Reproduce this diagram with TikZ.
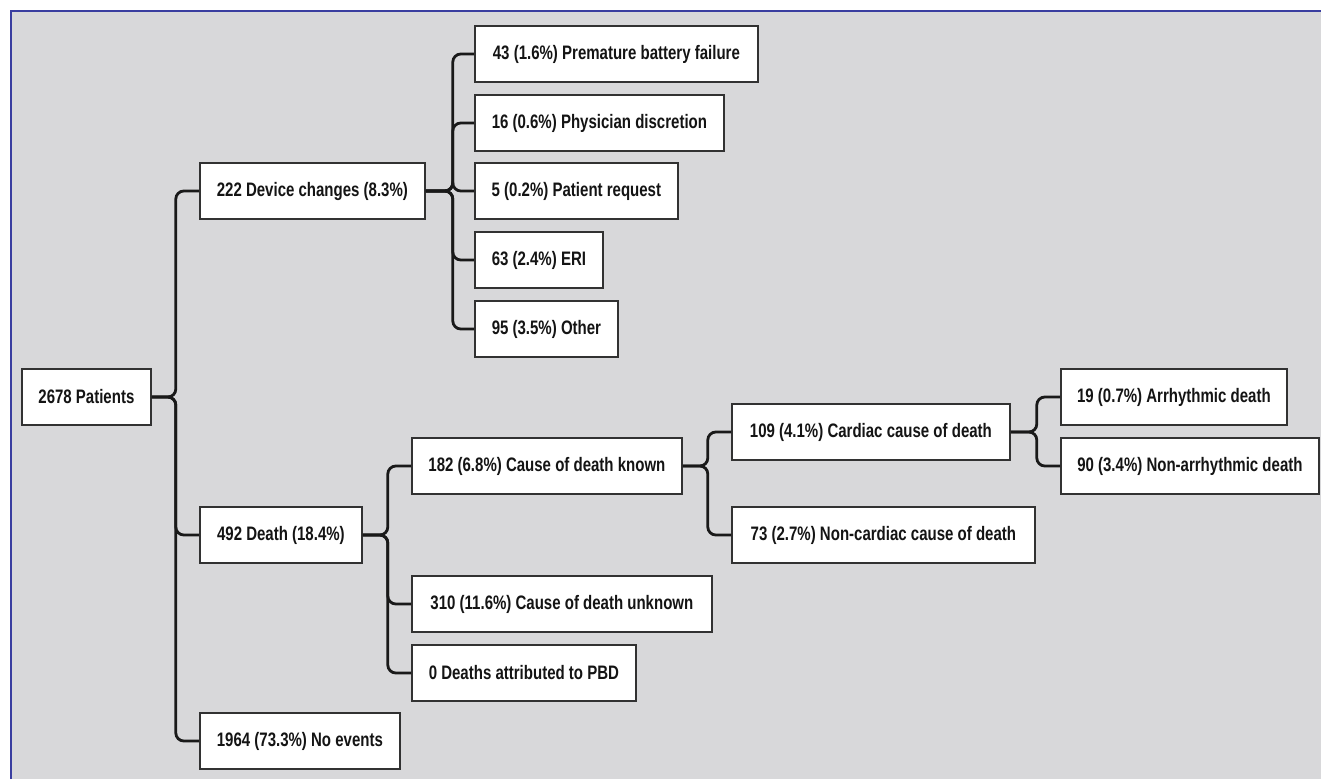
\documentclass[tikz,border=0pt]{standalone}
\usepackage{fontspec}
\newfontfamily\lab{Liberation Sans}[UprightFont={* Bold}, FakeStretch=0.77]
\definecolor{bggray}{RGB}{216,216,218}
\definecolor{frameblue}{RGB}{58,62,160}
\definecolor{boxline}{RGB}{50,50,50}
\begin{document}
\begin{tikzpicture}[x=1pt,y=-1pt,
  bx/.style={draw=boxline, fill=white, line width=1.8pt, minimum height=56pt,
    inner xsep=0pt, inner ysep=0pt, minimum width=#1, anchor=west,
    font=\lab\fontsize{19.5pt}{23pt}\selectfont, text=black!92},
  conn/.style={draw=black!90, line width=2.8pt, rounded corners=8pt}]
\useasboundingbox (0,0) rectangle (1321,779);
\fill[white] (0,0) rectangle (1321,779);
\fill[bggray] (11,11) rectangle (1321,779);
\draw[frameblue, line width=2.5pt] (11,779) -- (11,11) -- (1321,11);

% nodes
\node[bx=129pt] (root)    at (21,397)  {2678 Patients};
\node[bx=225pt] (dev)     at (199,191) {222 Device changes (8.3\%)};
\node[bx=162pt] (death)   at (199,535) {492 Death (18.4\%)};
\node[bx=200pt] (noev)    at (199,741) {1964 (73.3\%) No events};
\node[bx=283pt] (b43)     at (474,54)  {43 (1.6\%) Premature battery failure};
\node[bx=249pt] (b16)     at (474,123) {16 (0.6\%) Physician discretion};
\node[bx=203pt] (b5)      at (474,191) {5 (0.2\%) Patient request};
\node[bx=128pt] (b63)     at (474,260) {63 (2.4\%) ERI};
\node[bx=143pt] (b95)     at (474,329) {95 (3.5\%) Other};
\node[bx=270pt] (known)   at (411,466) {182 (6.8\%) Cause of death known};
\node[bx=300pt] (unknown) at (411,604) {310 (11.6\%) Cause of death unknown};
\node[bx=224pt] (pbd)     at (411,673) {0 Deaths attributed to PBD};
\node[bx=278pt] (cardiac) at (731,432) {109 (4.1\%) Cardiac cause of death};
\node[bx=303pt] (noncard) at (731,535) {73 (2.7\%) Non-cardiac cause of death};
\node[bx=226pt] (arr)     at (1060,397) {19 (0.7\%) Arrhythmic death};
\node[bx=258pt] (nonarr)  at (1060,466) {90 (3.4\%) Non-arrhythmic death};

% connectors
\foreach \c in {dev,death,noev}
  \draw[conn] (root.east) -- ++(24,0) |- (\c.west);
\foreach \c in {b43,b16,b5,b63,b95}
  \draw[conn] (dev.east) -- ++(27,0) |- (\c.west);
\foreach \c in {known,unknown,pbd}
  \draw[conn] (death.east) -- ++(25,0) |- (\c.west);
\foreach \c in {cardiac,noncard}
  \draw[conn] (known.east) -- ++(25,0) |- (\c.west);
\foreach \c in {arr,nonarr}
  \draw[conn] (cardiac.east) -- ++(26,0) |- (\c.west);
\end{tikzpicture}
\end{document}
